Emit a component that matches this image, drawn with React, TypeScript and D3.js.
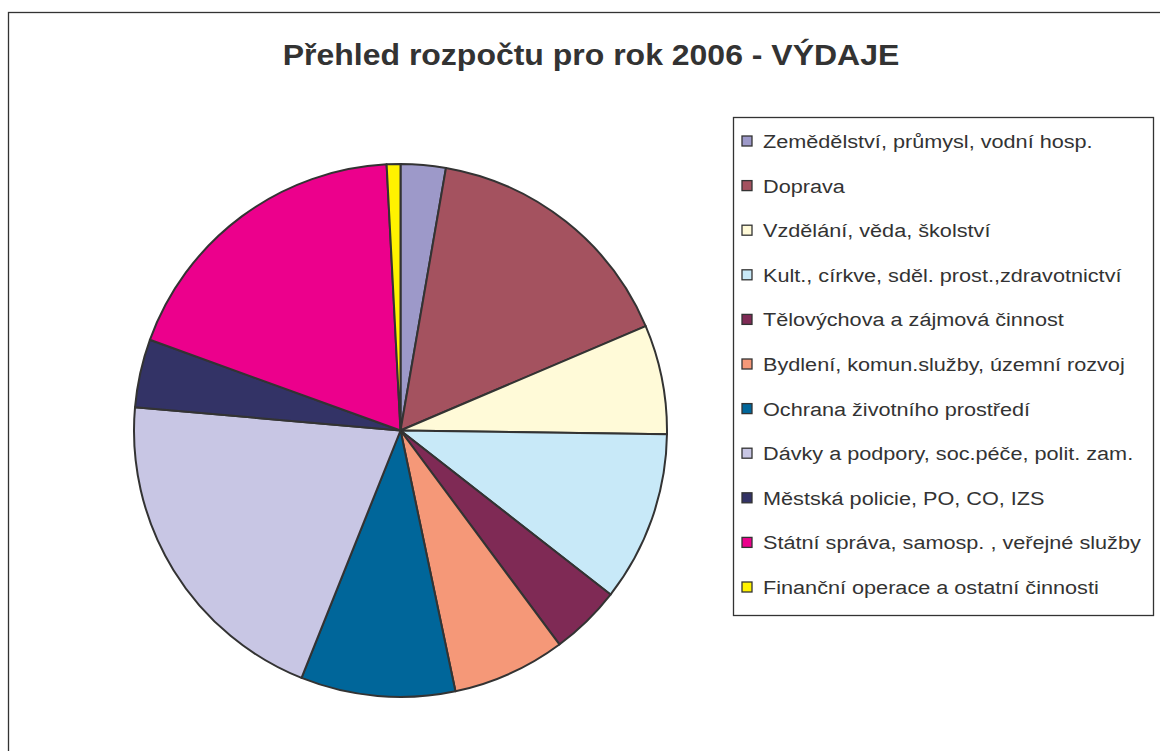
import React from "react";
import * as d3 from "d3";

const width = 1160,
  height = 751;

// kategorie výdajů
const categories = [
  "Zemědělství, průmysl, vodní hosp.",
  "Doprava",
  "Vzdělání, věda, školství",
  "Kult., církve, sděl. prost.,zdravotnictví",
  "Tělovýchova a zájmová činnost",
  "Bydlení, komun.služby, územní rozvoj",
  "Ochrana životního prostředí",
  "Dávky a podpory, soc.péče, polit. zam.",
  "Městská policie, PO, CO, IZS",
  "Státní správa, samosp. , veřejné služby",
  "Finanční operace a ostatní činnosti",
];

// podíly v %
const values = [2.73, 15.86, 6.63, 10.33, 4.28, 6.86, 9.36, 20.33, 4.14, 18.64, 0.83];

const colors = [
  "#9d99c9",
  "#a4525f",
  "#fffad8",
  "#c8e9f8",
  "#7f2a55",
  "#f59878",
  "#00669a",
  "#c8c6e4",
  "#333366",
  "#ec008c",
  "#fff200",
];

const title = "Přehled rozpočtu pro rok 2006 - VÝDAJE";

export default function App() {
  const cx = 400.5,
    cy = 430.5,
    r = 266.5;

  const pie = d3
    .pie<number>()
    .sort(null)
    .value((d) => d);
  const arc = d3.arc<d3.PieArcDatum<number>>().innerRadius(0).outerRadius(r);
  const arcs = pie(values);

  // legenda
  const legendY = d3
    .scalePoint<string>()
    .domain(categories)
    .range([141, 587]);

  return (
    <svg
      width={width}
      height={height}
      style={{ position: "absolute", left: 0, top: 0 }}
      fontFamily="'Liberation Sans', Arial, sans-serif"
    >
      <rect x={0} y={0} width={width} height={height} fill="#fff" />
      <rect x={8.5} y={12.5} width={width} height={height} fill="none" stroke="#333" strokeWidth={1.3} />
      <text
        transform="translate(591,65) scale(1.066,1)"
        textAnchor="middle"
        fontSize={30}
        fontWeight="bold"
        fill="#333"
      >
        {title}
      </text>
      <g transform={`translate(${cx},${cy})`} stroke="#333" strokeWidth={2} strokeLinejoin="round">
        {arcs.map((a, i) => (
          <path key={i} d={arc(a) || ""} fill={colors[i]} />
        ))}
      </g>
      <rect x={733.5} y={117.5} width={420} height={498} fill="#fff" stroke="#333" strokeWidth={1.3} />
      {categories.map((c, i) => (
        <g key={c} transform={`translate(742,${legendY(c)})`}>
          <rect x={0} y={-5} width={10} height={10} fill={colors[i]} stroke="#333" strokeWidth={1.3} />
          <text transform="translate(21,7) scale(1.14,1)" fontSize={19} fill="#333">
            {c}
          </text>
        </g>
      ))}
    </svg>
  );
}
